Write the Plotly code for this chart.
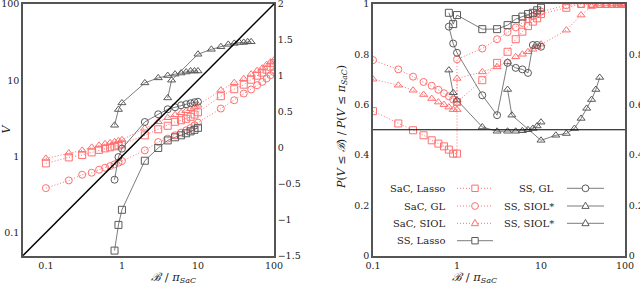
import plotly.graph_objects as go

# ---------------- data: left panel (V vs B/pi_SaC, log-log) ----------------
x_sac = [0.1, 0.2, 0.3, 0.4, 0.5, 0.6, 0.7, 0.8, 0.9, 1,
         2, 3, 4, 5, 6, 7, 8, 9, 10,
         20, 30, 40, 50, 60, 70, 80, 90, 100]
v_sac_lasso = [0.809, 0.970, 1.040, 1.129, 1.218, 1.274, 1.314, 1.354, 1.395, 1.439,
               1.889, 2.266, 2.520, 2.844, 2.977, 3.114, 3.310, 3.537, 3.793,
               6.16, 7.61, 8.73, 10.15, 11.46, 12.55, 13.75, 15.05, 16.74]
v_sac_gl = [0.383, 0.483, 0.574, 0.610, 0.668, 0.710, 0.745, 0.785, 0.826, 0.867,
            1.199, 1.542, 1.710, 1.889, 2.050, 2.198, 2.357, 2.558, 2.776,
            4.243, 5.456, 6.683, 7.544, 8.597, 9.50, 10.53, 11.64, 12.75]
v_sac_siol = [0.941, 1.105, 1.199, 1.314, 1.395, 1.460, 1.505, 1.551, 1.599, 1.649,
              2.336, 2.844, 3.211, 3.516, 3.735, 3.969, 4.217, 4.413, 4.689,
              7.39, 9.27, 10.46, 11.99, 13.34, 14.38, 15.99, 17.26, 18.33]

x_ss = [0.8, 0.9, 1, 2, 3, 4, 5, 6, 7, 8, 9, 10]
v_ss_lasso = [0.058, 0.126, 0.199, 0.877, 1.29, 1.62, 1.78, 1.89, 2.01, 2.13, 2.23, 2.37]
v_ss_gl = [0.494, 0.979, 1.263, 2.827, 3.569, 4.153, 4.413, 4.689, 4.832, 4.981, 5.135, 5.214]
v_ss_siol_a = [2.56, 4.12, 5.03, 9.21, 10.72, 11.5, 12.0, 12.4, 12.8, 13.2, 13.2, 13.2]

x_ss_siol_b = [4, 4.5, 10, 15, 20, 25, 30, 35, 40, 45, 50]
v_ss_siol_b = [5.85, 10.0, 21.9, 25.4, 27.5, 29.5, 30.4, 31.3, 31.3, 31.9, 31.9]

# ---------------- data: right panel (probability ratio) ----------------
x_sac_r = [0.1, 0.2, 0.3, 0.4, 0.5, 0.6, 0.7, 0.8, 0.9, 1, 1,
           2, 3, 4, 5, 6, 7, 8, 9, 10,
           20, 30, 40, 50, 60, 70, 80, 90, 100]
p_sac_lasso = [0.574, 0.525, 0.498, 0.478, 0.458, 0.445, 0.434, 0.421, 0.405, 0.405, 0.610,
               0.697, 0.766, 0.810, 0.860, 0.890, 0.912, 0.930, 0.943, 0.960,
               0.985, 1.0, 1.0, 1.0, 1.0, 1.0, 1.0, 1.0, 1.0]
p_sac_gl = [0.777, 0.740, 0.711, 0.690, 0.675, 0.659, 0.645, 0.633, 0.620, 0.611, 0.780,
            0.823, 0.860, 0.888, 0.907, 0.925, 0.940, 0.952, 0.962, 0.970,
            0.995, 1.0, 1.0, 1.0, 1.0, 1.0, 1.0, 1.0, 1.0]
p_sac_siol = [0.701, 0.677, 0.657, 0.640, 0.624, 0.610, 0.600, 0.590, 0.580, 0.580, 0.704,
              0.730, 0.750, 0.770, 0.790, 0.800, 0.810, 0.820, 0.830, 0.840,
              0.896, 0.956, 0.990, 1.0, 1.0, 1.0, 1.0, 1.0, 1.0]

p_ss_lasso = [0.965, 0.920, 0.956, 0.900, 0.900, 0.916, 0.940, 0.950, 0.960, 0.965, 0.975, 0.985]
p_ss_gl = [0.910, 0.843, 0.806, 0.637, 0.558, 0.766, 0.746, 0.740, 0.726, 0.837, 0.837, 0.830]
p_ss_siol_a = [0.737, 0.647, 0.618, 0.511, 0.494, 0.494, 0.494, 0.496, 0.500, 0.505, 0.515, 0.530]
p_ss_siol_b = [0.660, 0.558, 0.458, 0.478, 0.485, 0.505, 0.545, 0.585, 0.620, 0.660, 0.708]

legend_left = ["SaC, Lasso", "SaC, GL", "SaC, SIOL", "SS, Lasso"]
legend_right = ["SS, GL", "SS, SIOL*", "SS, SIOL*"]

# ---------------- styles ----------------
RED = "#ff7070"
GRAY = "#5a5a5a"
FONT = "DejaVu Serif"
TXT = "#222222"
MS = 7
DOT = "1px,2px"

W, H = 640, 284
L1, R1 = 23, 274
L2, R2 = 373, 625
TOP, BOT = 4, 255.5

fig = go.Figure()


def series(x, y, sym, color, dash, xa, ya, lw):
    fig.add_trace(go.Scatter(
        x=x, y=y, mode="lines+markers", xaxis=xa, yaxis=ya, showlegend=False,
        line=dict(color=color, width=lw, dash=dash),
        marker=dict(symbol=sym, size=MS, color=color, line=dict(width=1)),
        hoverinfo="skip"))


# left panel
series(x_sac, v_sac_lasso, "square-open", RED, DOT, "x", "y", 1)
series(x_sac, v_sac_gl, "circle-open", RED, DOT, "x", "y", 1)
series(x_sac, v_sac_siol, "triangle-up-open", RED, DOT, "x", "y", 1)
series(x_ss, v_ss_lasso, "square-open", GRAY, "solid", "x", "y", 0.8)
series(x_ss, v_ss_gl, "circle-open", GRAY, "solid", "x", "y", 0.8)
series(x_ss, v_ss_siol_a, "triangle-up-open", GRAY, "solid", "x", "y", 0.8)
series(x_ss_siol_b, v_ss_siol_b, "triangle-up-open", GRAY, "solid", "x", "y", 0.8)

# right panel
series(x_sac_r, p_sac_lasso, "square-open", RED, DOT, "x2", "y3", 1)
series(x_sac_r, p_sac_gl, "circle-open", RED, DOT, "x2", "y3", 1)
series(x_sac_r, p_sac_siol, "triangle-up-open", RED, DOT, "x2", "y3", 1)
series(x_ss, p_ss_lasso, "square-open", GRAY, "solid", "x2", "y3", 0.8)
series(x_ss, p_ss_gl, "circle-open", GRAY, "solid", "x2", "y3", 0.8)
series(x_ss, p_ss_siol_a, "triangle-up-open", GRAY, "solid", "x2", "y3", 0.8)
series(x_ss_siol_b, p_ss_siol_b, "triangle-up-open", GRAY, "solid", "x2", "y3", 0.8)

# empty traces so the secondary (right-hand) axes are registered and drawn
fig.add_trace(go.Scatter(x=[], y=[], xaxis="x", yaxis="y2", showlegend=False))
fig.add_trace(go.Scatter(x=[], y=[], xaxis="x2", yaxis="y4", showlegend=False))

# ---------------- legend (shapes + annotations, paper coords) ----------------
rows = [188.3, 206, 223.3, 240.7]
leg_styles_left = [("square", RED, DOT), ("circle", RED, DOT),
                   ("triangle", RED, DOT), ("square", GRAY, "solid")]
leg_styles_right = [("circle", GRAY, "solid"), ("triangle", GRAY, "solid"),
                    ("triangle", GRAY, "solid")]


def px(xp):
    return xp / W


def py(yp):
    return 1 - yp / H


def legend_item(text, style, xt, xl0, xl1, y):
    sym, col, dash = style
    fig.add_shape(type="line", xref="paper", yref="paper", x0=px(xl0), x1=px(xl1),
                  y0=py(y), y1=py(y),
                  line=dict(color=col, width=1 if dash == DOT else 0.8, dash=dash))
    xc = px((xl0 + xl1) / 2)
    common = dict(xref="paper", yref="paper", xsizemode="pixel", ysizemode="pixel",
                  xanchor=xc, yanchor=py(y), line=dict(color=col, width=1),
                  fillcolor="white")
    if sym == "square":
        fig.add_shape(type="rect", x0=-3.2, x1=3.2, y0=-3.2, y1=3.2, **common)
    elif sym == "circle":
        fig.add_shape(type="circle", x0=-3.4, x1=3.4, y0=-3.4, y1=3.4, **common)
    else:
        fig.add_shape(type="path", path="M-3.6,-2.4 L3.6,-2.4 L0,3.9 Z", **common)
    fig.add_annotation(x=px(xt), y=py(y), xref="paper", yref="paper", text=text,
                       showarrow=False, xanchor="right", yanchor="middle",
                       font=dict(family=FONT, size=10, color=TXT))


for t, s, y in zip(legend_left, leg_styles_left, rows):
    legend_item(t, s, 447, 457, 493, y)
for t, s, y in zip(legend_right, leg_styles_right, rows):
    legend_item(t, s, 556, 567, 604, y)

# ---------------- reference lines ----------------
fig.add_shape(type="line", xref="x domain", yref="y domain", x0=0, y0=0, x1=1, y1=1,
              line=dict(color="black", width=1.5))
fig.add_shape(type="line", xref="x2 domain", yref="y3", x0=0, x1=1, y0=0.5, y1=0.5,
              line=dict(color="black", width=1.2))

# ---------------- axes ----------------
dom_y = [1 - BOT / H, 1 - TOP / H]
axcommon = dict(showgrid=False, zeroline=False, showline=True, linecolor="#555555",
                linewidth=1.5, ticks="", automargin=False, ticklabeloverflow="allow",
                tickfont=dict(family=FONT, size=9.5, color=TXT))

fig.update_layout(
    width=W, height=H, margin=dict(l=0, r=0, t=0, b=0, pad=0),
    paper_bgcolor="white", plot_bgcolor="white",
    xaxis=dict(axcommon, type="log", range=[-1.30103, 2], domain=[L1 / W, R1 / W],
               anchor="y", mirror=True, tickvals=[0.1, 1, 10, 100],
               ticktext=["0.1", "1", "10", "100"]),
    yaxis=dict(axcommon, type="log", range=[-1.30103, 2], domain=dom_y, anchor="x",
               mirror=True, tickvals=[0.1, 1, 10, 100], ticktext=["0.1", "1", "10", "100"]),
    yaxis2=dict(axcommon, overlaying="y", side="right", anchor="x", range=[-1.5, 2],
                tickvals=[-1.5, -1, -0.5, 0, 0.5, 1, 1.5, 2]),
    xaxis2=dict(axcommon, type="log", range=[-1, 2], domain=[L2 / W, R2 / W], anchor="y3",
                mirror=True, tickvals=[0.1, 1, 10, 100], ticktext=["0.1", "1", "10", "100"]),
    yaxis3=dict(axcommon, range=[0, 1], domain=dom_y, anchor="x2", mirror=True,
                tickvals=[0, 0.2, 0.4, 0.6, 0.8, 1]),
    yaxis4=dict(axcommon, overlaying="y3", side="right", anchor="x2", range=[0, 1],
                tickvals=[0, 0.2, 0.4, 0.6, 0.8]),
)

# ---------------- titles ----------------
xt = "<i>ℬ</i> / <i>π</i><sub><i>SaC</i></sub>"
fig.add_annotation(x=(L1 + R1) / 2 / W, y=py(267.5), xref="paper", yref="paper", text=xt,
                   yanchor="top", showarrow=False, font=dict(family=FONT, size=11.5, color=TXT))
fig.add_annotation(x=(L2 + R2) / 2 / W, y=py(267.5), xref="paper", yref="paper", text=xt,
                   yanchor="top", showarrow=False, font=dict(family=FONT, size=11.5, color=TXT))
fig.add_annotation(x=px(342), y=py(127), xref="paper", yref="paper", textangle=-90,
                   text="<i>P</i>(<i>V</i> ≤ <i>ℬ</i>) / <i>P</i>(<i>V</i> ≤ <i>π</i><sub><i>SaC</i></sub>)",
                   showarrow=False, font=dict(family=FONT, size=11, color=TXT))
fig.add_annotation(x=px(-3), y=py(129), xref="paper", yref="paper", textangle=-90,
                   text="<i>V</i>", showarrow=False, font=dict(family=FONT, size=11, color=TXT))

fig.write_html("out.html", config={"displayModeBar": False},
               post_script="document.body.style.margin='0px';")
